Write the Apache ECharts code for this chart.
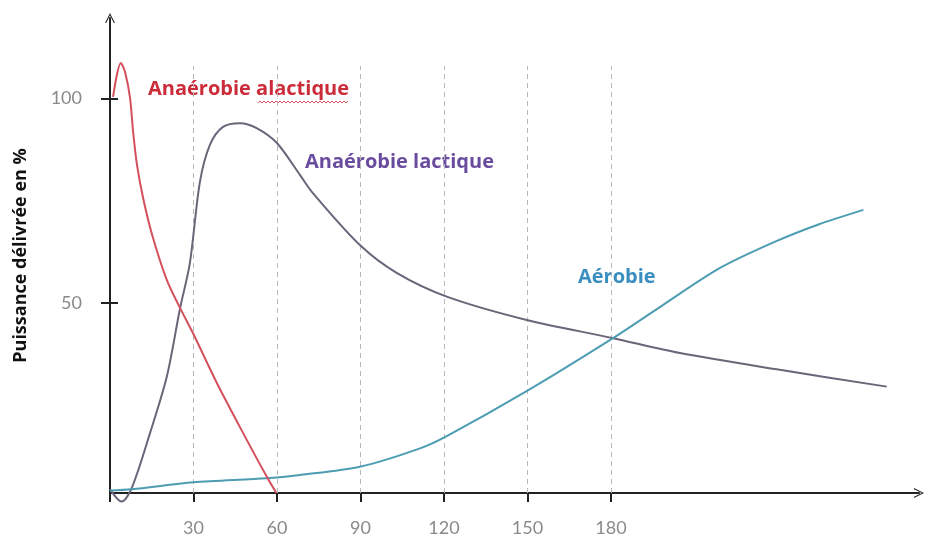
<!DOCTYPE html>
<html>
<head>
<meta charset="utf-8">
<script src="https://cdn.jsdelivr.net/npm/echarts@6/dist/echarts.min.js"></script>
<style>
  html, body { margin: 0; padding: 0; background: #fff; }
  #container { width: 925px; height: 537px; }
</style>
</head>
<body>
<div id="container"></div>
<script>
(function(){
    // temps (s) / puissance (%)
    var xTicks = [0, 30, 60, 90, 120, 150, 180];
    var xLabels = [30, 60, 90, 120, 150, 180];
    var yLabels = [50, 100];

    var alactique = [
        [1.1, 100.4], [3.9, 108.7], [5.4, 106.5], [7.2, 100.2], [8.3, 91.9],
        [9.7, 83.8], [11.9, 75.7], [15.1, 66.8], [20.4, 55.7],
        [25.2, 48.8], [29.8, 42.7], [38.4, 30.5], [47.8, 18.3], [56.4, 7.5], [59.8, 3.6]
    ];
    var lactique = [
        [0, 4.5], [4.2, 1.5], [7.8, 4.8], [14.4, 18.3], [20.4, 32.0],
        [25.2, 48.8], [28.7, 59.8], [32.3, 79.6], [35.9, 88.7], [40.6, 93.1],
        [46.7, 94.0], [52.7, 92.8], [59.9, 89.2], [68.3, 81.3], [72.9, 76.9],
        [89.8, 64.2], [103.0, 57.4], [121.0, 51.6], [149.7, 45.9], [180.4, 41.5],
        [204.8, 37.8], [240.7, 33.7], [279.1, 29.6]
    ];
    var aerobie = [
        [0, 4.2], [7.8, 4.5], [29.9, 6.2], [56.3, 7.2], [68.3, 8.0],
        [89.8, 10.0], [111.4, 14.5], [121.0, 17.5], [149.7, 28.5], [180.6, 41.4],
        [198.8, 49.6], [219.2, 58.6], [238.2, 64.8], [254.8, 69.3], [270.7, 72.8]
    ];

    var yMin = 3.6, yMax = 119.7, xMax = 290.7, guideTop = 108;

    var arrowPath = 'path://M50,0 L100,100 L88,100 L50,22 L12,100 L0,100 Z';

    var guides = [];
    for (var i = 1; i < xTicks.length; i++) {
        guides.push([{coord: [xTicks[i], yMin]}, {coord: [xTicks[i], guideTop]}]);
    }

    // soulignement ondulé (correcteur orthographique) sous "alactique"
    var squiggle = [];
    for (var k = 0; k <= 45; k++) {
        squiggle.push([258 + k * 2, k % 2 ? 101 : 103]);
    }

    var dom = document.getElementById("container");
    var myChart = echarts.init(dom);

    var labelFont = {fontFamily: 'Open Sans', fontSize: 20, fontWeight: 'bold'};

    var option = {
        animation: false,
        grid: {left: 110, right: 6, top: 18, bottom: 44},
        xAxis: {
            type: 'value',
            min: 0,
            max: xMax,
            axisLine: {
                show: true,
                onZero: false,
                symbol: ['none', arrowPath],
                symbolSize: [12, 10],
                lineStyle: {color: '#222', width: 2}
            },
            axisTick: {show: true, length: 9, customValues: xTicks, lineStyle: {color: '#222', width: 2}},
            axisLabel: {
                customValues: xLabels, margin: 26,
                color: '#8a8a8a', fontFamily: 'Lato', fontSize: 18
            },
            splitLine: {show: false}
        },
        yAxis: [{
            type: 'value',
            min: yMin,
            max: yMax,
            name: 'Puissance délivrée en %',
            nameLocation: 'middle',
            nameGap: 80,
            nameTextStyle: {color: '#111', fontFamily: 'Open Sans', fontSize: 18, fontWeight: 'bold'},
            axisLine: {
                show: true,
                symbol: ['none', arrowPath],
                symbolSize: [12, 10],
                lineStyle: {color: '#222', width: 2}
            },
            axisTick: {show: true, length: 9, customValues: yLabels, lineStyle: {color: '#222', width: 2}},
            axisLabel: {
                customValues: yLabels, margin: 28,
                color: '#8a8a8a', fontFamily: 'Lato', fontSize: 18
            },
            splitLine: {show: false}
        }, {
            type: 'value',
            position: 'left',
            min: yMin,
            max: yMax,
            axisLine: {show: false},
            axisTick: {show: true, inside: true, length: 8, customValues: yLabels, lineStyle: {color: '#222', width: 2}},
            axisLabel: {show: false},
            splitLine: {show: false}
        }],
        series: [
            {
                name: 'Anaérobie alactique',
                type: 'line',
                data: alactique,
                smooth: 0.3,
                symbol: 'none',
                clip: false,
                lineStyle: {color: '#d4505c', width: 2},
                z: 4
            },
            {
                name: 'Anaérobie lactique',
                type: 'line',
                data: lactique,
                smooth: 0.3,
                symbol: 'none',
                clip: false,
                lineStyle: {color: '#6c6478', width: 2},
                z: 3,
                markLine: {
                    silent: true,
                    symbol: ['none', 'none'],
                    label: {show: false},
                    lineStyle: {color: '#b8b8b8', type: [5, 4], width: 1},
                    data: guides,
                    z: 1
                }
            },
            {
                name: 'Aérobie',
                type: 'line',
                data: aerobie,
                smooth: 0.3,
                symbol: 'none',
                clip: false,
                lineStyle: {color: '#4c9db2', width: 2},
                z: 3
            }
        ],
        graphic: [
            {type: 'text', left: 148, top: 79, style: Object.assign({text: 'Anaérobie alactique', fill: '#cc2b39'}, labelFont)},
            {type: 'polyline', shape: {points: squiggle}, style: {stroke: '#d0505a', lineWidth: 1, fill: null}},
            {type: 'text', left: 305, top: 152, style: Object.assign({text: 'Anaérobie lactique', fill: '#6a4c9e'}, labelFont)},
            {type: 'text', left: 578, top: 267, style: Object.assign({text: 'Aérobie', fill: '#3b8ec0'}, labelFont)}
        ]
    };

    myChart.setOption(option);
    window.onresize = myChart.resize;
}())
</script>
</body>
</html>
